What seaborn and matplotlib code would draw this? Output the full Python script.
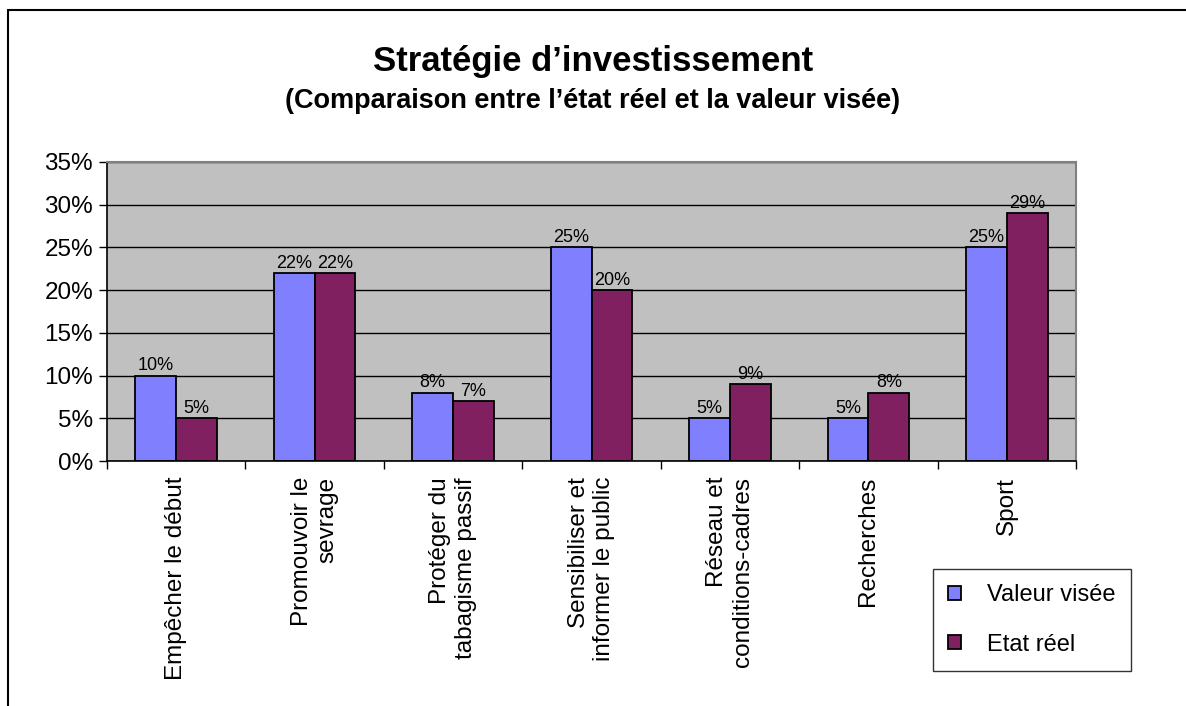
import matplotlib
matplotlib.use("Agg")
import matplotlib.pyplot as plt
from matplotlib.lines import Line2D
from matplotlib.ticker import FuncFormatter, FixedLocator
import numpy as np
import pandas as pd
import seaborn as sns

# DATA
categories = [
    "Empêcher le début",
    "Promouvoir le\nsevrage",
    "Protéger du\ntabagisme passif",
    "Sensibiliser et\ninformer le public",
    "Réseau et\nconditions-cadres",
    "Recherches",
    "Sport",
]
series_names = ["Valeur visée", "Etat réel"]
valeur_visee = [10, 22, 8, 25, 5, 5, 25]
etat_reel = [5, 22, 7, 20, 9, 8, 29]
y_ticks = [0, 5, 10, 15, 20, 25, 30, 35]
colors = ["#8080FF", "#802060"]

df = pd.DataFrame({
    "categorie": categories * 2,
    "serie": [series_names[0]] * len(categories) + [series_names[1]] * len(categories),
    "valeur": valeur_visee + etat_reel,
})

sns.set_style("white")
plt.rcParams["font.family"] = ["Liberation Sans", "DejaVu Sans"]
plt.rcParams["text.color"] = "black"
plt.rcParams["xtick.color"] = "black"
plt.rcParams["ytick.color"] = "black"
plt.rcParams["axes.labelcolor"] = "black"

fig = plt.figure(figsize=(11.86, 7.06), dpi=100)
ax = fig.add_axes([107 / 1186, 1 - 461 / 706, (1076 - 107) / 1186, (461 - 162) / 706])

sns.barplot(data=df, x="categorie", y="valeur", hue="serie", palette=colors,
            width=0.59, gap=0, edgecolor="black", linewidth=1.3,
            saturation=1, errorbar=None, ax=ax, legend=True)

# data labels
for cont in ax.containers:
    vals = [b.get_height() for b in cont]
    ax.bar_label(cont, labels=[f"{v:.0f}%" for v in vals], padding=1, fontsize=13, color="black")

ax.set_facecolor("#C0C0C0")
ax.set_ylim(0, 35)
ax.set_xlim(-0.5, len(categories) - 0.5)
ax.yaxis.set_major_locator(FixedLocator(y_ticks))
ax.yaxis.set_major_formatter(FuncFormatter(lambda v, p: f"{v:.0f}%"))
ax.grid(axis="y", color="black", linewidth=1)
ax.set_axisbelow(True)
ax.set_xlabel("")
ax.set_ylabel("")

ax.tick_params(axis="y", left=True, length=6, width=1, color="black", labelsize=17.5, pad=4)
ax.tick_params(axis="x", which="major", bottom=False, labelsize=17.5, pad=8)
ax.set_xticks(np.arange(-0.5, len(categories), 1.0), minor=True)
ax.tick_params(axis="x", which="minor", bottom=True, length=6, width=1, color="black")
for lbl in ax.get_xticklabels():
    lbl.set_rotation(90)
    lbl.set_ha("center")
    lbl.set_va("top")
    lbl.set_multialignment("right")

for s in ["left", "bottom"]:
    ax.spines[s].set_color("black")
    ax.spines[s].set_linewidth(1.2)
for s in ["top", "right"]:
    ax.spines[s].set_color("#808080")
    ax.spines[s].set_linewidth(1.5)

leg = ax.get_legend()
leg.remove()
handles, labels = ax.get_legend_handles_labels()
leg = fig.legend(handles, labels, loc="center", bbox_to_anchor=(1032 / 1186, 1 - 620 / 706),
                 fontsize=17, frameon=True, fancybox=False, edgecolor="black",
                 handlelength=0.55, handleheight=0.55, handletextpad=1.1,
                 labelspacing=1.15, borderpad=0.65, borderaxespad=0)
leg.get_frame().set_linewidth(1)
for h in leg.legend_handles:
    h.set_linewidth(1.3)

fig.text(0.5, 1 - 62 / 706, "Stratégie d\u2019investissement", ha="center", va="center",
         fontsize=25, fontweight="bold")
fig.text(0.5, 1 - 101 / 706, "(Comparaison entre l\u2019état réel et la valeur visée)",
         ha="center", va="center", fontsize=19.5, fontweight="bold")

# outer frame (top and left edges)
x0, y0 = 8 / 1186, 1 - 10 / 706
fig.add_artist(Line2D([x0, 1.0], [y0, y0], color="black", linewidth=1.5, transform=fig.transFigure))
fig.add_artist(Line2D([x0, x0], [y0, 0.0], color="black", linewidth=1.5, transform=fig.transFigure))

fig.savefig("out.png", dpi=100, facecolor="white")
